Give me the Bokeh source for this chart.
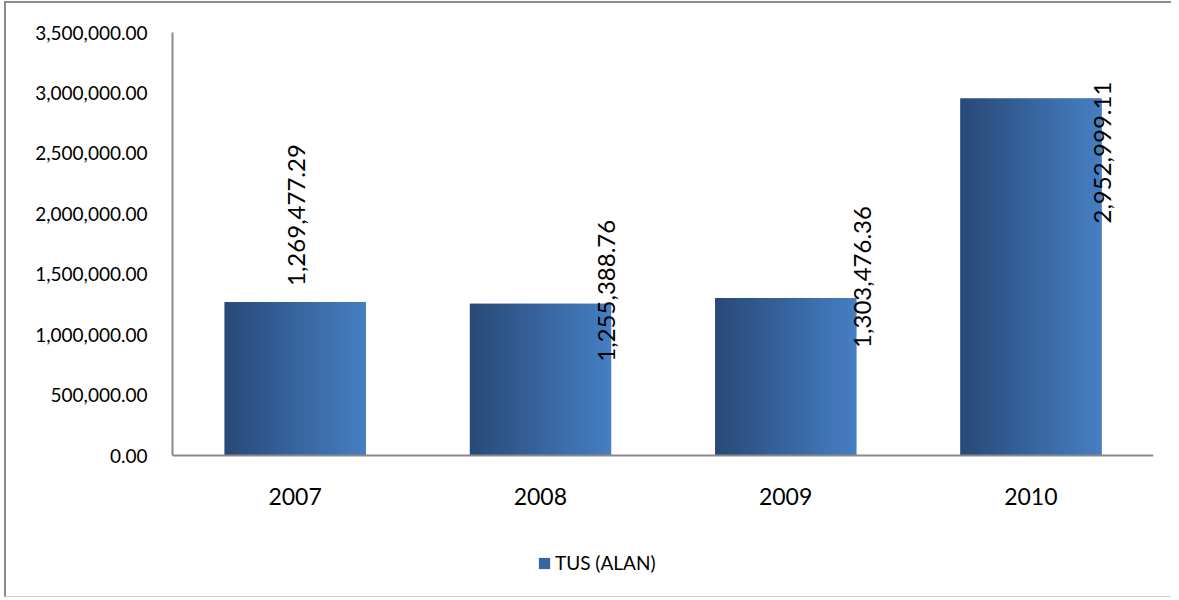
import numpy as np
from bokeh.plotting import figure
from bokeh.models import (FixedTicker, NumeralTickFormatter, Range1d, Legend, LegendItem,
                          ColumnDataSource)
from bokeh.core.properties import value
from bokeh.embed import file_html
from bokeh.resources import INLINE

# ---- data ----
years = ["2007", "2008", "2009", "2010"]
values = [1269477.29, 1255388.76, 1303476.36, 2952999.11]
labels = ["1,269,477.29", "1,255,388.76", "1,303,476.36", "2,952,999.11"]
series_name = "TUS (ALAN)"
y_ticks = [0, 500000, 1000000, 1500000, 2000000, 2500000, 3000000, 3500000]

# ---- styles ----
FONT = "Lato"
BAR_W = 0.575
Y_MAX = 3500000
Y_MIN = -Y_MAX * 137 / 423    # room under the axis for legend
label_dx = [1, 66, 77, 72]      # px offset of label centre from category centre
label_dy = [-87, -13, -21, 54]  # px offset of label centre from bar top (down = +)
c_left = np.array([0x29, 0x4A, 0x78])
c_right = np.array([0x46, 0x7F, 0xC4])

p = figure(output_backend="svg", toolbar_location=None,
           frame_width=981, frame_height=560,
           min_border_left=166, min_border_right=18,
           min_border_top=29, min_border_bottom=4,
           x_range=Range1d(0, 4), y_range=Range1d(Y_MIN, Y_MAX))
p.styles = {"border-left": "2px solid #8c8c8c", "border-top": "2px solid #8c8c8c",
            "border-bottom": "1px solid #d0d0d0", "border-right": "none",
            "margin-left": "4px", "margin-top": "1px"}
p.outline_line_color = None
p.xgrid.grid_line_color = None
p.ygrid.grid_line_color = None

xs = [i + 0.5 for i in range(len(years))]

# base bars (legend)
base = p.vbar(x=xs, top=values, width=BAR_W, bottom=0,
              fill_color="#3864A0", line_color=None)

# gradient strips
N = 48
sl, sr, st, sc = [], [], [], []
for xc, v in zip(xs, values):
    edges = np.linspace(xc - BAR_W / 2, xc + BAR_W / 2, N + 1)
    for k in range(N):
        t = k / (N - 1)
        c = (c_left * (1 - t) + c_right * t).astype(int)
        sl.append(edges[k]); sr.append(edges[k + 1] + 0.0015); st.append(v)
        sc.append("#%02x%02x%02x" % tuple(c))
p.quad(left=sl, right=sr, bottom=0, top=st, fill_color=sc, line_color=None)

# data labels
src = ColumnDataSource(dict(x=xs, y=values, t=labels, dx=label_dx, dy=label_dy))
p.text(x="x", y="y", text="t", x_offset="dx", y_offset="dy", source=src,
       angle=np.pi / 2, text_align="center", text_baseline="middle",
       text_font=value(FONT), text_font_size="24px", text_color="#000000")

# axes
p.yaxis.ticker = FixedTicker(ticks=y_ticks)
p.yaxis.formatter = NumeralTickFormatter(format="0,0.00")
p.yaxis.bounds = (0, Y_MAX)
p.xaxis.ticker = FixedTicker(ticks=xs)
p.xaxis.major_label_overrides = {x: y for x, y in zip(xs, years)}
p.xaxis.fixed_location = 0
for ax in (p.xaxis[0], p.yaxis[0]):
    ax.axis_line_color = "#898989"
    ax.axis_line_width = 2
    ax.major_tick_line_color = None
    ax.minor_tick_line_color = None
    ax.major_label_text_font = FONT
    ax.major_label_text_color = "#000000"
p.yaxis.major_label_text_font_size = "19px"
p.yaxis.major_label_standoff = 19
p.xaxis.major_label_text_font_size = "23px"
p.xaxis.major_label_standoff = 26

legend = Legend(items=[LegendItem(label=series_name, renderers=[base])],
                location=(365, 18), orientation="horizontal")
legend.glyph_width = 14
legend.glyph_height = 14
legend.label_standoff = 4
legend.padding = 0
legend.margin = 0
legend.spacing = 0
legend.border_line_color = None
legend.background_fill_alpha = 0
legend.label_text_font = FONT
legend.label_text_font_size = "19px"
legend.label_text_color = "#000000"
p.add_layout(legend, "center")

open("out.html", "w").write(file_html(p, INLINE))
